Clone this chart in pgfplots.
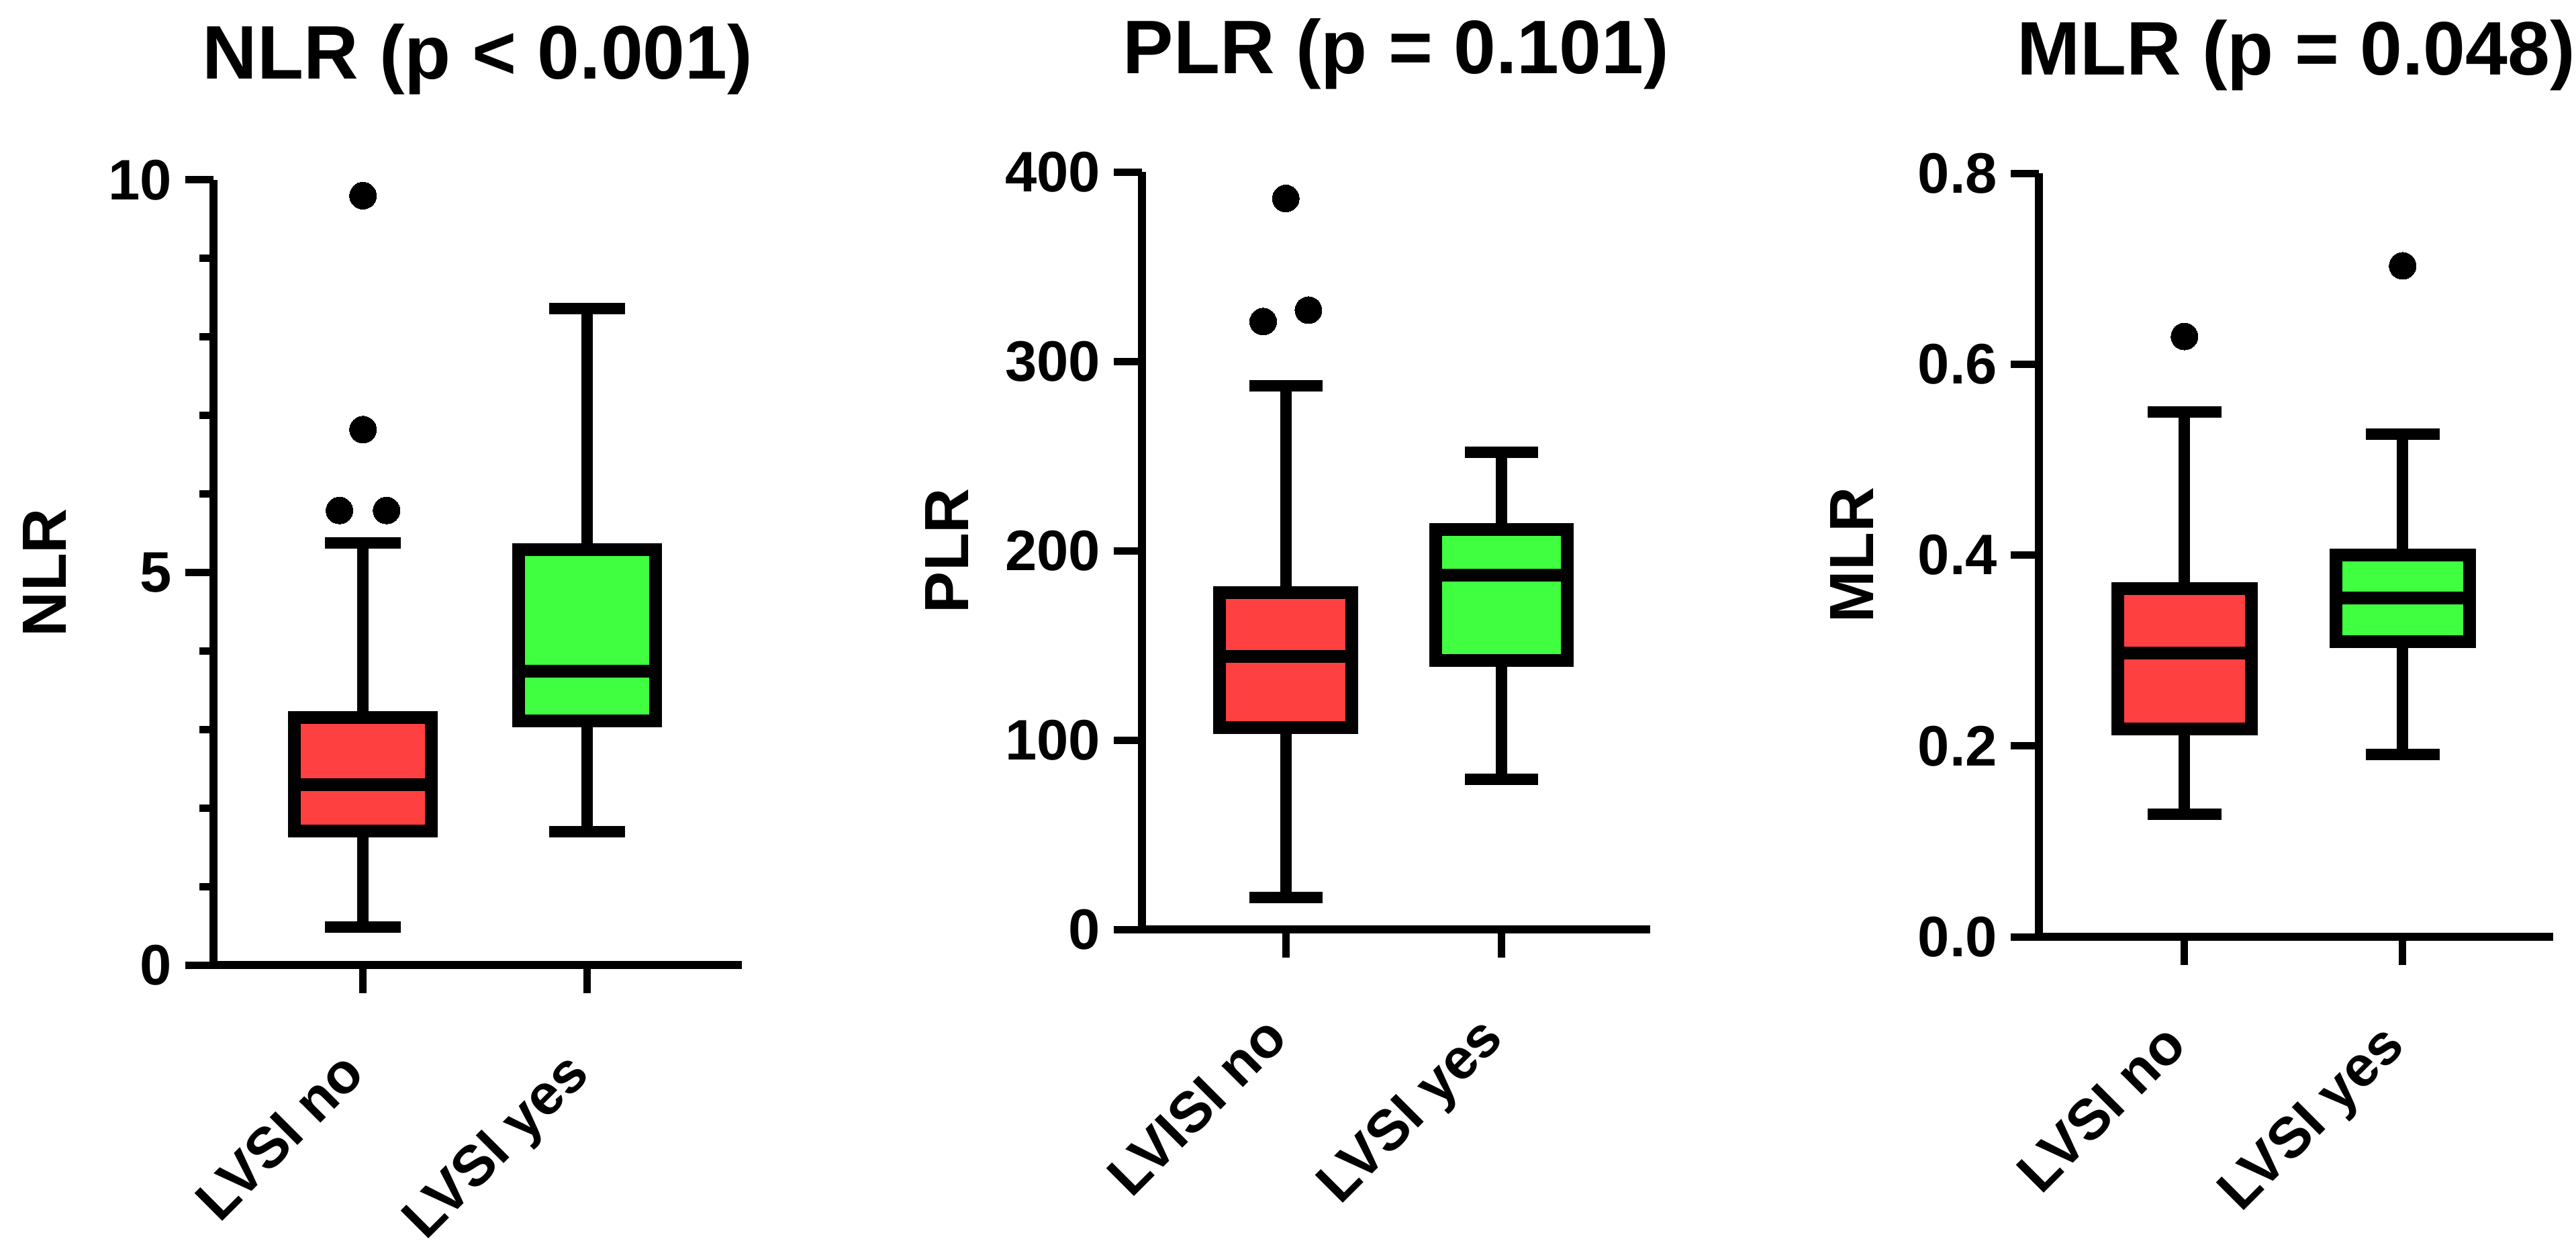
\documentclass[border=0pt]{standalone}
\usepackage{fontspec}
\setmainfont{Liberation Sans}
\usepackage{pgfplots}
\pgfplotsset{compat=1.18}
\usepgfplotslibrary{statistics}
\definecolor{boxred}{RGB}{255,64,64}
\definecolor{boxgreen}{RGB}{64,255,64}

\pgfplotsset{
  gp/.style={
    scale only axis,
    axis lines=left,
    axis line style={-, line width=1.25bp},
    tick align=outside,
    major tick length=4.2bp,
    minor tick length=2.1bp,
    tick style={black, line width=1.1bp},
    xmin=0.333, xmax=2.69,
    xtick={1,2},
    clip=false,
    /pgf/number format/assume math mode=true,
    ticklabel style={font=\fontsize{8.5bp}{9bp}\selectfont\bfseries},
    yticklabel style={inner sep=1.8bp},
    xticklabel style={xshift=-3.6bp, yshift=-6.5bp, rotate=45, anchor=north east, inner sep=1pt},
    title style={font=\fontsize{11.3bp}{12bp}\selectfont\bfseries, anchor=base},
    every axis y label/.style={rotate=90, anchor=center, font=\fontsize{9.3bp}{10bp}\selectfont\bfseries},
    boxplot/draw direction=y,
    boxplot/box extend=0.612,
    boxplot/whisker extend=0.34,
    boxplot/every box/.style={draw=black, line width=1.9bp},
    boxplot/every whisker/.style={black, line width=1.7bp},
    boxplot/every median/.style={black, line width=1.9bp},
  },
  outl/.style={black, only marks, mark=*, mark size=2bp, mark options={fill=black, draw=black, line width=0pt}},
}

\begin{document}
\begin{tikzpicture}
\useasboundingbox (0,0) rectangle (383.7bp,184.8bp);

% ---------- NLR ----------
\begin{axis}[gp,
  at={(31.8bp,41.1bp)}, anchor=south west,
  width=78.7bp, height=116.9bp,
  ymin=0, ymax=10, ytick={0,5,10}, minor ytick={1,2,3,4,6,7,8,9},
  xticklabels={LVSI no, LVSI yes},
  title={NLR (p < 0.001)}, title style={at={(axis description cs:0.5,1.0777)}},
  ylabel={NLR}, ylabel style={at={(axis description cs:-0.319,0.5)}},
]
\addplot[boxplot prepared={lower whisker=0.48, lower quartile=1.71, median=2.30,
  upper quartile=3.15, upper whisker=5.38, draw position=1}, fill=boxred, draw=black] coordinates {};
\addplot[boxplot prepared={lower whisker=1.70, lower quartile=3.11, median=3.74,
  upper quartile=5.29, upper whisker=8.36, draw position=2}, fill=boxgreen, draw=black] coordinates {};
\addplot[outl] coordinates {(1,9.80) (1,6.82) (0.895,5.79) (1.105,5.79)};
\end{axis}

% ---------- PLR ----------
\begin{axis}[gp,
  at={(170.1bp,46.4bp)}, anchor=south west,
  width=75.7bp, height=112.8bp,
  ymin=0, ymax=400, ytick={0,100,200,300,400},
  xticklabels={LVISI no, LVSI yes},
  title={PLR (p = 0.101)}, title style={at={(axis description cs:0.5,1.077)}},
  ylabel={PLR}, ylabel style={at={(axis description cs:-0.384,0.5)}},
]
\addplot[boxplot prepared={lower whisker=16.7, lower quartile=106.5, median=144,
  upper quartile=178, upper whisker=287, draw position=1}, fill=boxred, draw=black] coordinates {};
\addplot[boxplot prepared={lower whisker=79.3, lower quartile=142, median=187,
  upper quartile=211, upper whisker=252, draw position=2}, fill=boxgreen, draw=black] coordinates {};
\addplot[outl] coordinates {(1,386) (0.895,321) (1.105,327)};
\end{axis}

% ---------- MLR ----------
\begin{axis}[gp,
  at={(303.7bp,45.3bp)}, anchor=south west,
  width=76.6bp, height=113.7bp,
  ymin=0, ymax=0.8, ytick={0,0.2,0.4,0.6,0.8},
  yticklabel style={/pgf/number format/.cd, fixed, fixed zerofill, precision=1},
  xticklabels={LVSI no, LVSI yes},
  title={MLR (p = 0.048)}, title style={at={(axis description cs:0.5,1.0763)}},
  ylabel={MLR}, ylabel style={at={(axis description cs:-0.364,0.5)}},
]
\addplot[boxplot prepared={lower whisker=0.1285, lower quartile=0.218, median=0.297,
  upper quartile=0.365, upper whisker=0.550, draw position=1}, fill=boxred, draw=black] coordinates {};
\addplot[boxplot prepared={lower whisker=0.191, lower quartile=0.309, median=0.355,
  upper quartile=0.400, upper whisker=0.527, draw position=2}, fill=boxgreen, draw=black] coordinates {};
\addplot[outl] coordinates {(1,0.629) (2,0.703)};
\end{axis}
\end{tikzpicture}
\end{document}
